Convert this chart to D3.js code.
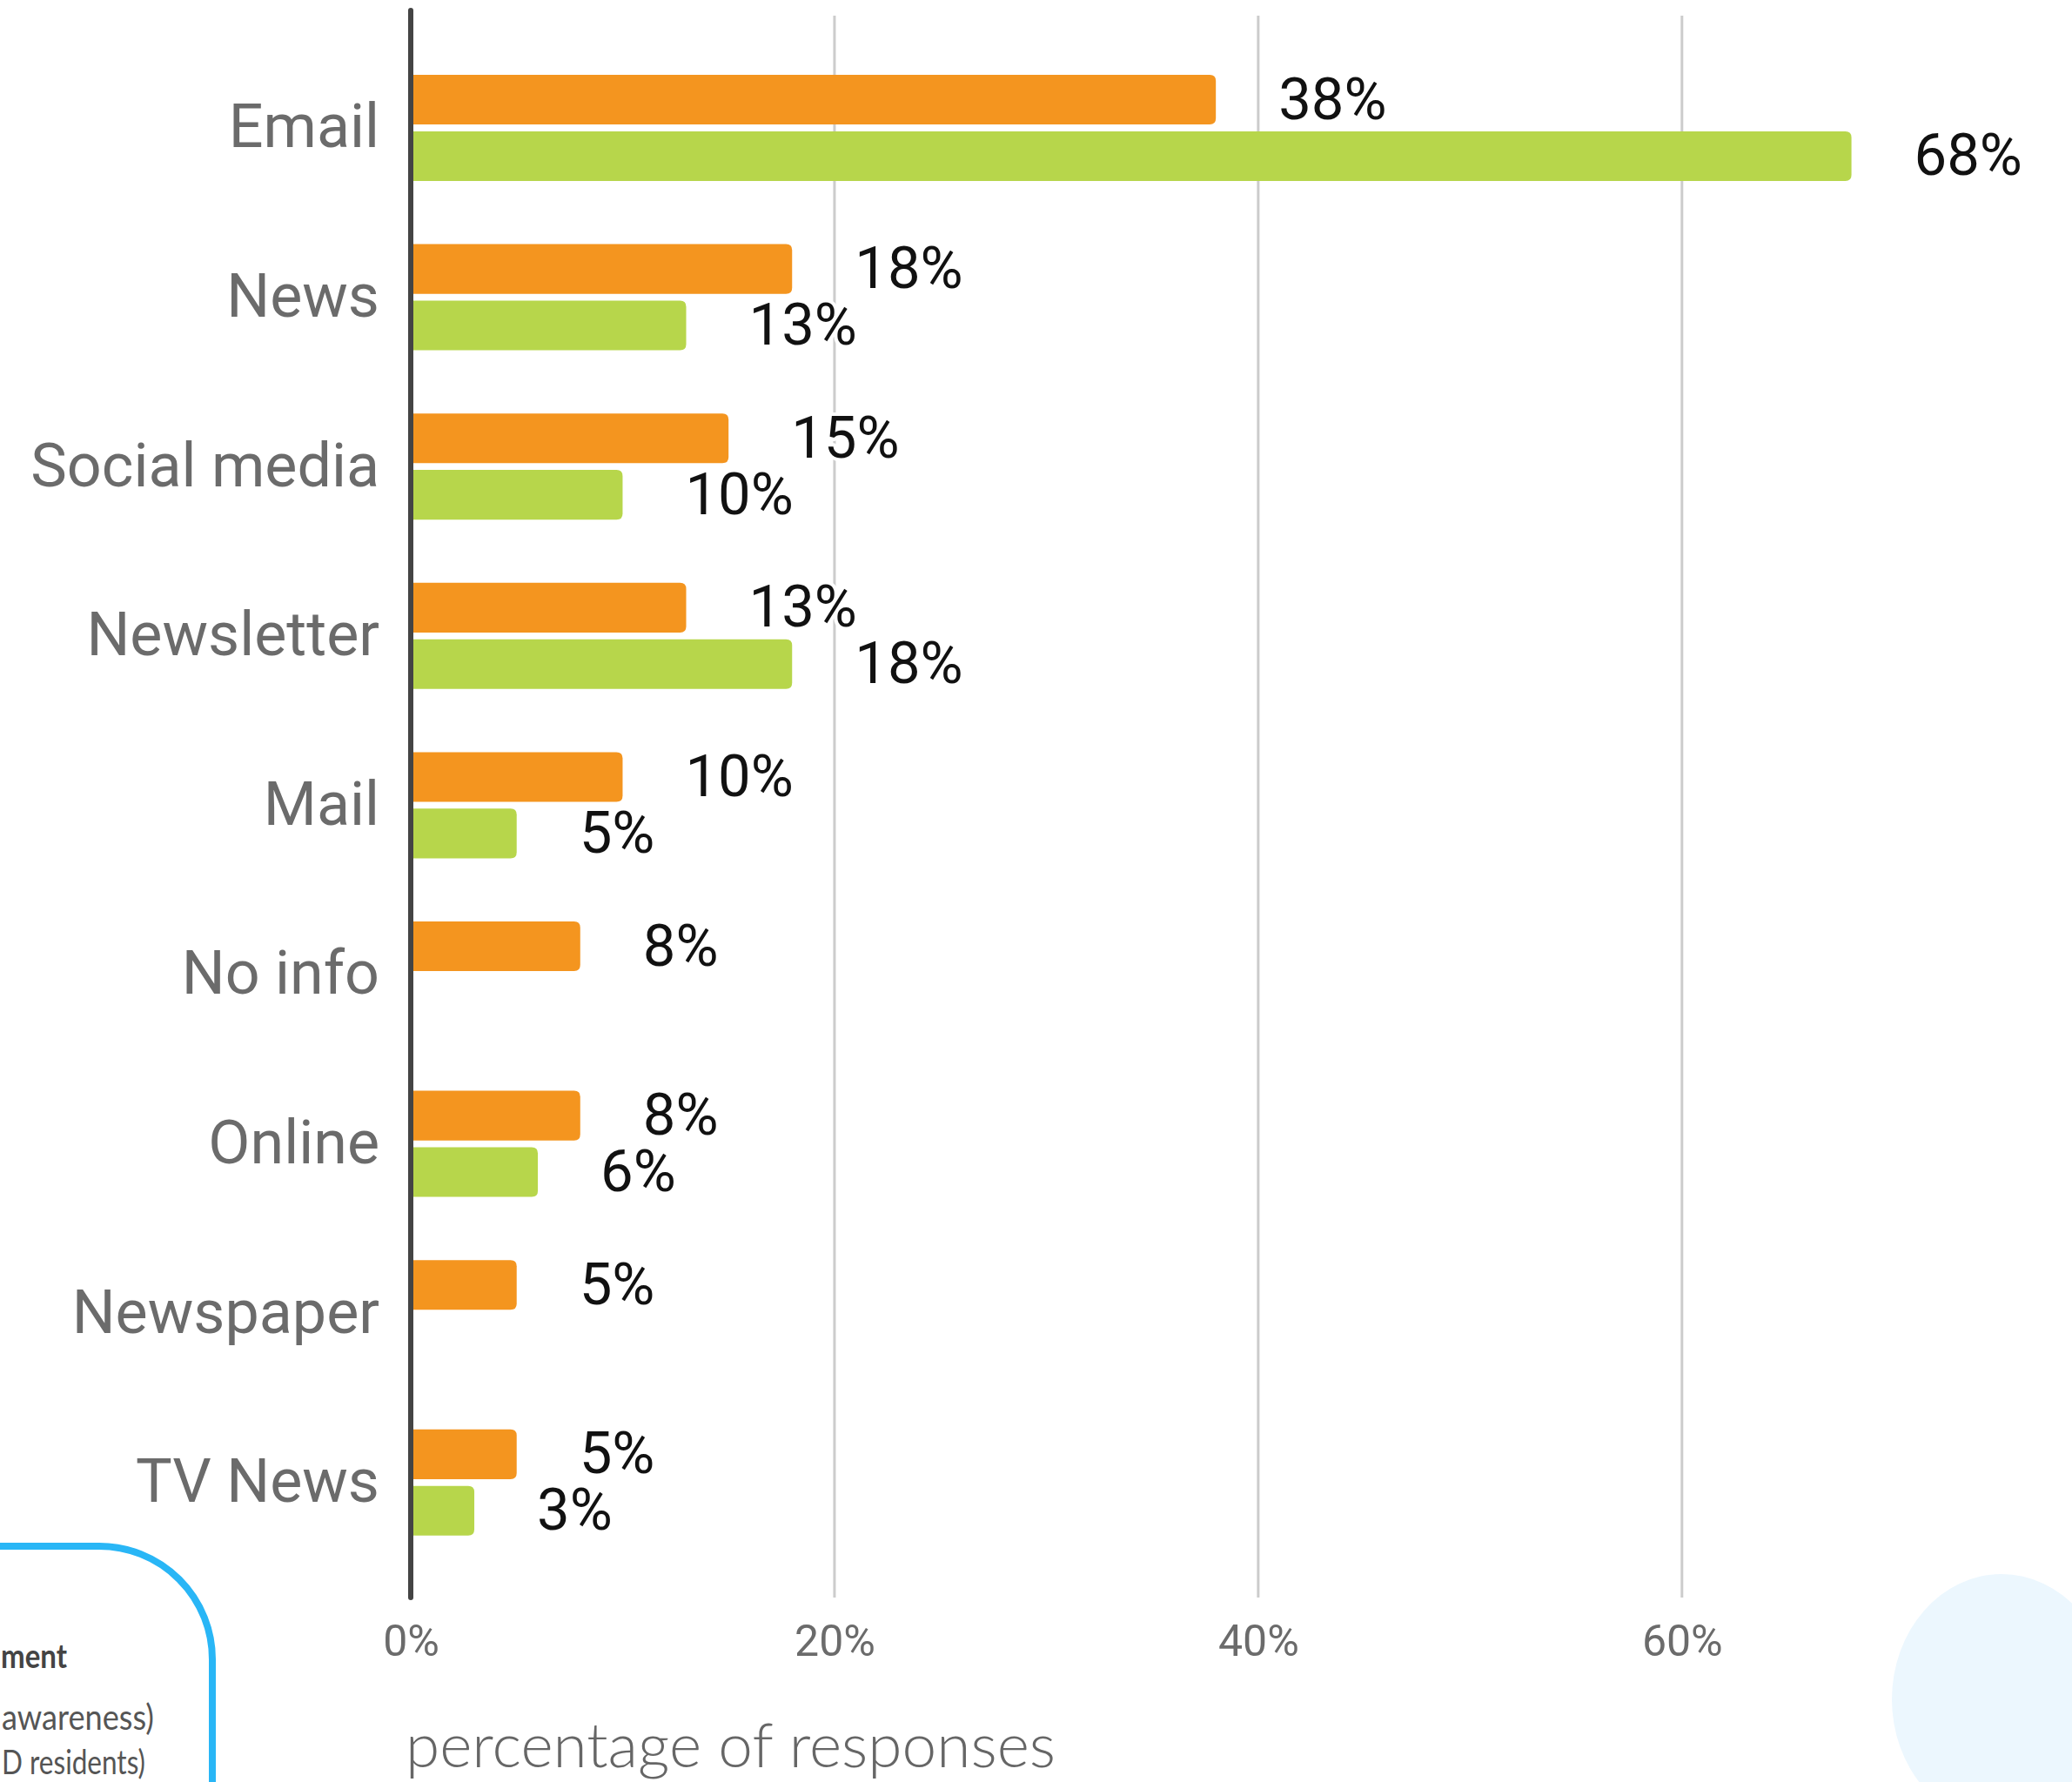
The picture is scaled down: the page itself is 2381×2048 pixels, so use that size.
<!DOCTYPE html>
<html>
<head>
<meta charset="utf-8">
<script src="https://cdn.jsdelivr.net/npm/d3@7"></script>
<style>
  html, body { margin: 0; padding: 0; background: #ffffff; }
  svg { display: block; }
</style>
</head>
<body>
<svg id="chart" width="2381" height="2048"></svg>
<script>
// Information channels, share of responses (%)
const categories = ["Email", "News", "Social media", "Newsletter", "Mail", "No info", "Online", "Newspaper", "TV News"];
const seriesOrange = [38, 18, 15, 13, 10, 8, 8, 5, 5];
const seriesGreen  = [68, 13, 10, 18, 5, null, 6, null, 3];
const tickValues = [0, 20, 40, 60];
const legendLines = ["ment", "awareness)", "D residents)"];
const axisTitle = "percentage of responses";

const svg = d3.select("#chart");

// decorative blob, lower right
svg.append("ellipse")
  .attr("cx", 2300).attr("cy", 1953)
  .attr("rx", 126).attr("ry", 144)
  .attr("fill", "#ecf7fe");

// legend panel (runs off the left and bottom edges)
svg.append("rect")
  .attr("x", -300).attr("y", 1777)
  .attr("width", 544).attr("height", 600)
  .attr("rx", 130).attr("ry", 130)
  .attr("fill", "none")
  .attr("stroke", "#29b6f6")
  .attr("stroke-width", 8);

const legendG = svg.append("g").attr("font-family", "Lato, 'Open Sans', sans-serif");
legendG.append("text").attr("x", 1).attr("y", 1917)
  .attr("font-size", 38).attr("font-weight", 700).attr("fill", "#444")
  .attr("textLength", 76).attr("lengthAdjust", "spacingAndGlyphs").text(legendLines[0]);
legendG.append("text").attr("x", 2).attr("y", 1988)
  .attr("font-size", 40).attr("fill", "#555")
  .attr("textLength", 175).attr("lengthAdjust", "spacingAndGlyphs").text(legendLines[1]);
legendG.append("text").attr("x", 2).attr("y", 2039)
  .attr("font-size", 38).attr("fill", "#555")
  .attr("textLength", 165).attr("lengthAdjust", "spacingAndGlyphs").text(legendLines[2]);

// scales
const x = d3.scaleLinear().domain([0, 75]).range([472, 2298]);
const y0 = d3.scaleBand().domain(categories).range([49.7, 1801.1])
  .paddingInner(0.373).paddingOuter(0.1865);
const y1 = d3.scaleBand().domain(["orange", "green"]).range([0, y0.bandwidth()]).paddingInner(0.12);
const colors = { orange: "#f4951f", green: "#b7d64b" };

const plotTop = 14, plotBottom = 1836;

// vertical gridlines
svg.append("g").selectAll("line")
  .data(tickValues.filter(d => d > 0))
  .join("line")
  .attr("x1", d => x(d)).attr("x2", d => x(d))
  .attr("y1", plotTop + 4).attr("y2", plotBottom)
  .attr("stroke", "#cccccc").attr("stroke-width", 3);

// x tick labels
const xAxis = d3.axisBottom(x).tickValues(tickValues).tickSize(0).tickPadding(0)
  .tickFormat(d => d + "%");
const xg = svg.append("g").attr("transform", `translate(0, ${plotBottom})`).call(xAxis);
xg.select(".domain").remove();
xg.selectAll("text")
  .attr("y", 67).attr("dy", null)
  .attr("font-family", "Roboto, sans-serif")
  .attr("font-size", 50)
  .attr("fill", "#6b6b6b");

// bar with square left end and rounded right end
function barPath(x0, x1, yTop, h, r) {
  const rr = Math.min(r, (x1 - x0) / 2, h / 2);
  return `M${x0},${yTop}H${x1 - rr}Q${x1},${yTop} ${x1},${yTop + rr}` +
         `V${yTop + h - rr}Q${x1},${yTop + h} ${x1 - rr},${yTop + h}H${x0}Z`;
}

// bars
const rows = categories.map((c, i) => ({ cat: c, orange: seriesOrange[i], green: seriesGreen[i] }));
const groups = svg.append("g").selectAll("g")
  .data(rows).join("g")
  .attr("transform", d => `translate(0, ${y0(d.cat)})`);

const items = groups.selectAll("g.item")
  .data(d => ["orange", "green"].filter(k => d[k] != null).map(k => ({ key: k, value: d[k] })))
  .join("g").attr("class", "item");

items.append("path")
  .attr("d", d => barPath(x(0), x(d.value), y1(d.key), y1.bandwidth(), 7))
  .attr("fill", d => colors[d.key]);

// value labels
items.append("text")
  .attr("x", d => x(d.value) + 72)
  .attr("y", d => y1(d.key) + y1.bandwidth() / 2 + 22)
  .attr("font-family", "Roboto, sans-serif")
  .attr("font-size", 67)
  .attr("fill", "#111")
  .attr("stroke", "#ffffff").attr("stroke-width", 8).attr("paint-order", "stroke")
  .attr("stroke-linejoin", "round")
  .text(d => d.value + "%");

// category labels
const yAxis = d3.axisLeft(y0).tickSize(0).tickPadding(36);
const yg = svg.append("g").attr("transform", `translate(${x(0)}, 0)`).call(yAxis);
yg.select(".domain").remove();
yg.selectAll("text")
  .attr("dy", "0.32em")
  .attr("font-family", "Roboto, sans-serif")
  .attr("font-size", 70)
  .attr("fill", "#6b6b6b");

// baseline axis
svg.append("line")
  .attr("x1", x(0)).attr("x2", x(0))
  .attr("y1", plotTop - 2).attr("y2", plotBottom)
  .attr("stroke", "#444444").attr("stroke-width", 6)
  .attr("stroke-linecap", "round");

// axis title
svg.append("text")
  .attr("x", 466).attr("y", 2031)
  .attr("font-family", "Lato, sans-serif")
  .attr("font-weight", 300)
  .attr("font-size", 70)
  .attr("fill", "#666666")
  .attr("textLength", 747)
  .attr("lengthAdjust", "spacingAndGlyphs")
  .text(axisTitle);
</script>
</body>
</html>
